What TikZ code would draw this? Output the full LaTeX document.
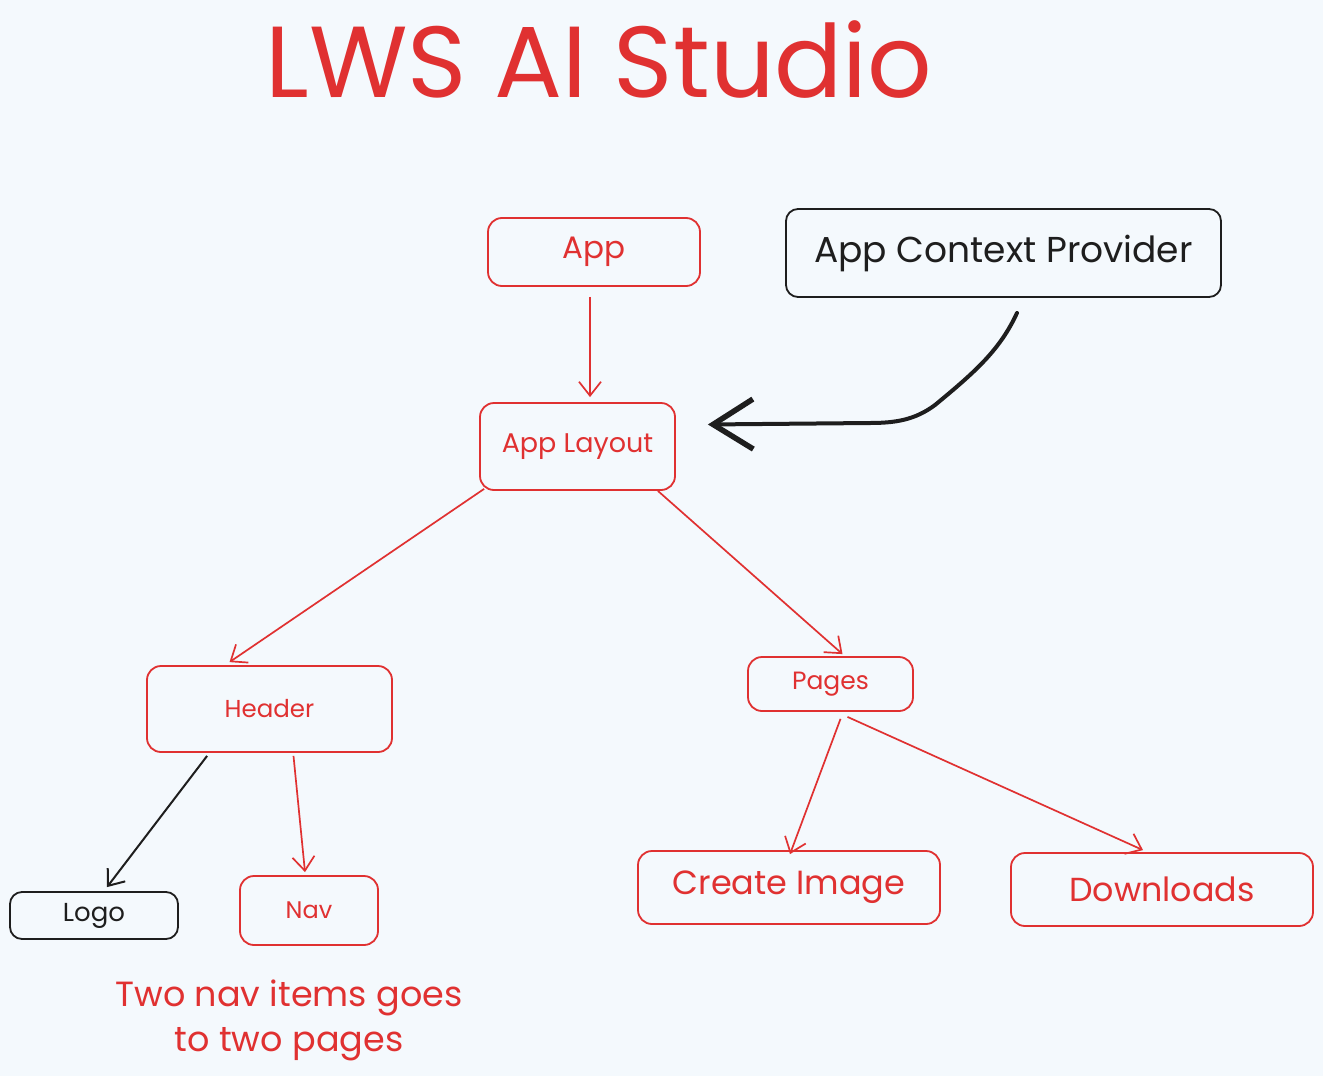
\documentclass[tikz,border=0pt]{standalone}
\usepackage{fontspec}
\setmainfont{Poppins}
\usetikzlibrary{arrows.meta,calc}
\definecolor{exred}{HTML}{E03131}
\definecolor{exblack}{HTML}{1E1E1E}
\definecolor{exbg}{HTML}{F4F9FD}
\tikzset{
  boxr/.style={draw=exred, text=exred, line width=1.8pt, rounded corners=14pt, inner sep=0pt},
  boxk/.style={draw=exblack, text=exblack, line width=1.8pt, rounded corners=12pt, inner sep=0pt},
  arr/.style={draw=exred, line width=1.7pt, -{Straight Barb[length=14pt,width=22pt,line width=1.7pt]}},
  arrk/.style={draw=exblack, line width=2pt, -{Straight Barb[length=14pt,width=22pt,line width=2pt]}},
}
\begin{document}
\begin{tikzpicture}[x=1pt,y=-1pt]
\fill[exbg] (0,0) rectangle (1323,1076);
\useasboundingbox (0,0) rectangle (1323,1076);

\node[text=exred, font=\fontsize{101}{110}\selectfont] (title) at (599,60) {LWS AI Studio};

\node[boxr, minimum width=212pt, minimum height=68pt, font=\fontsize{31}{36}\selectfont] (app) at (594,252) {\raisebox{-3pt}{App}};
\node[boxk, minimum width=435pt, minimum height=88pt, font=\fontsize{36}{40}\selectfont] (acp) at (1003.5,253) {App Context Provider};
\node[boxr, minimum width=195pt, minimum height=87pt, font=\fontsize{27}{32}\selectfont] (layout) at (577.5,446.5) {App Layout};
\node[boxr, minimum width=245pt, minimum height=86pt, font=\fontsize{24.5}{28}\selectfont] (header) at (269.5,709) {Header};
\node[boxr, minimum width=165pt, minimum height=54pt, font=\fontsize{25}{28}\selectfont] (pages) at (830.5,684) {\raisebox{-2pt}{Pages}};
\node[boxk, minimum width=168pt, minimum height=47pt, font=\fontsize{26}{30}\selectfont] (logo) at (94,915.5) {\raisebox{-2pt}{Logo}};
\node[boxr, minimum width=138pt, minimum height=69pt, font=\fontsize{24}{28}\selectfont] (nav) at (309,910.5) {Nav};
\node[boxr, minimum width=302pt, minimum height=73pt, font=\fontsize{33.5}{38}\selectfont] (create) at (789,887.5) {\raisebox{-2pt}{Create Image}};
\node[boxr, minimum width=302pt, minimum height=73pt, font=\fontsize{33.3}{38}\selectfont] (dl) at (1162,889.5) {Downloads};

\node[text=exred, align=center, font=\fontsize{35}{45}\selectfont] (note) at (289,1020) {Two nav items goes\\to two pages};

\draw[arr] ($(app.south)+(-4,10)$) -- ($(layout.north)+(12.5,-5)$);
\draw[arr] ($(layout.south west)+(5,-2)$) -- ($(header.north)+(-40,-3)$);
\draw[arr] ($(layout.south east)+(-18,0)$) -- ($(pages.north)+(12,-2)$);
\draw[arrk] ($(header.south west)+(61,3)$) -- ($(logo.north)+(13,-4)$);
\draw[arr] ($(header.south)+(24,3)$) -- ($(nav.north)+(-4,-3)$);
\draw[arr] ($(pages.south)+(10,7)$) -- ($(create.north)+(1,4)$);
\draw[arr] ($(pages.south)+(17,5)$) -- ($(dl.north)+(-19,-2)$);

\draw[draw=exblack, line width=4pt, line cap=round, -{Straight Barb[length=40pt,width=50pt,line width=5.5pt]}]
  ($(acp.south)+(13.5,15)$) .. controls (1000,350) and (975,372) .. (935,405)
  .. controls (915,420) and (895,423) .. (870,423) -- ($(layout.east)+(32,-22)$);
\end{tikzpicture}
\end{document}
